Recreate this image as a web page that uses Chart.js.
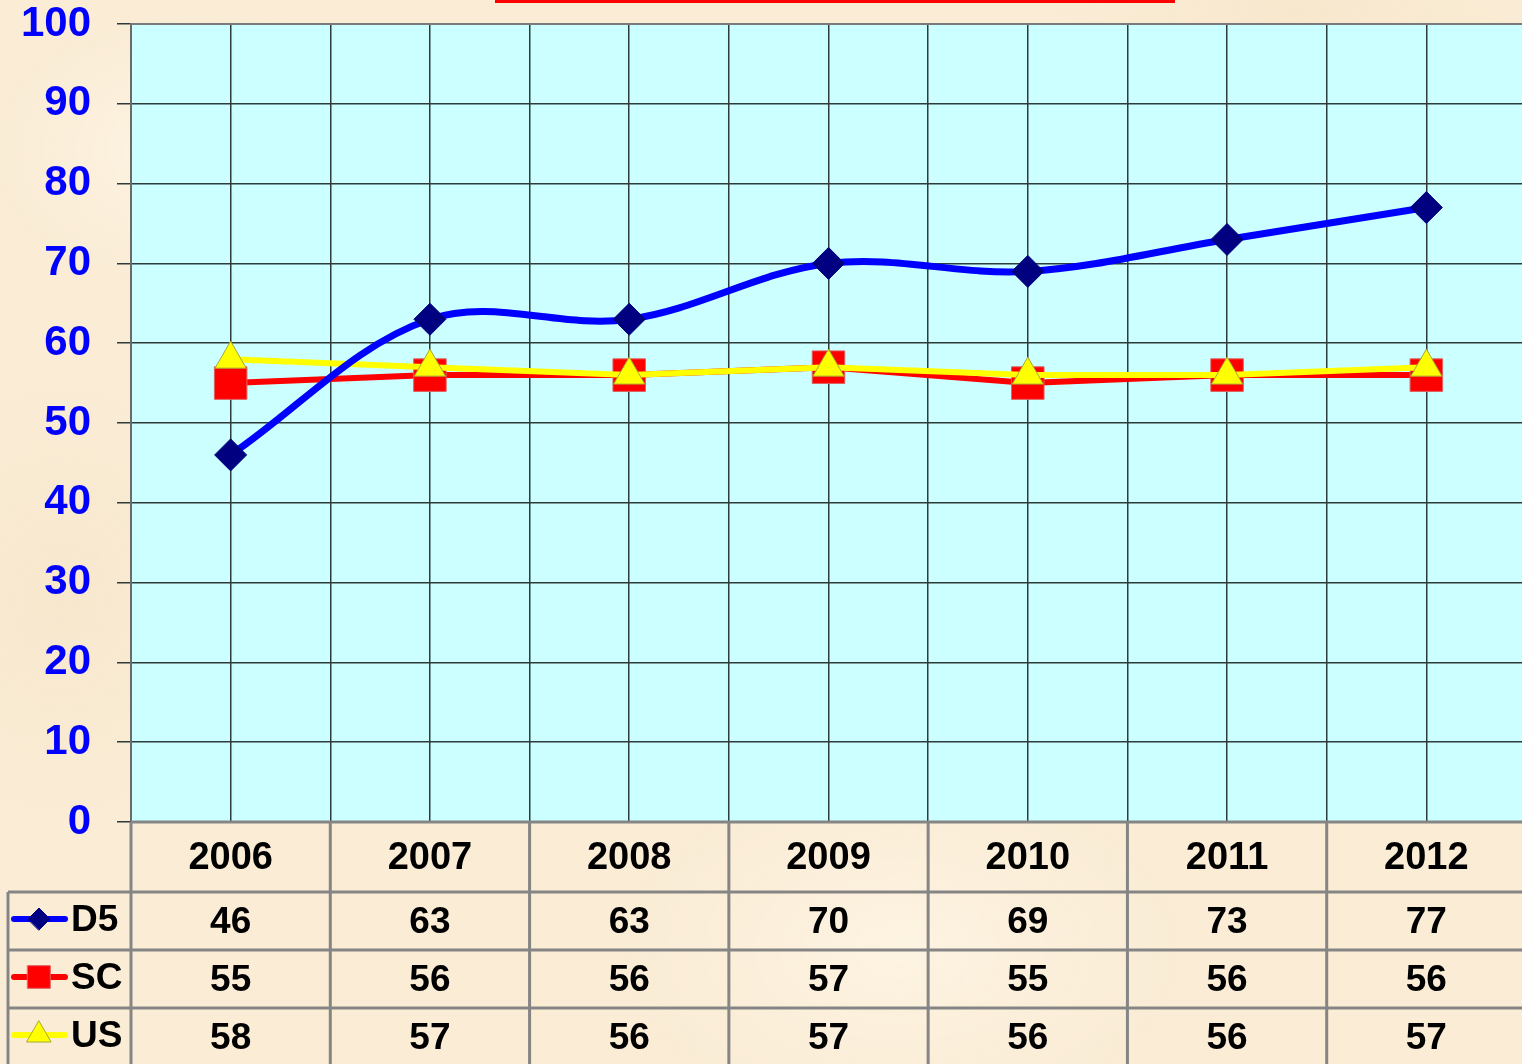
<!DOCTYPE html>
<html>
<head>
<meta charset="utf-8">
<script src="https://cdn.jsdelivr.net/npm/chart.js@4.4.0/dist/chart.umd.min.js"></script>
<style>
  html, body { margin: 0; padding: 0; overflow: hidden; }
  body {
    width: 1522px; height: 1064px;
    background-color: #faecd5;
    background-image:
      radial-gradient(ellipse 300px 200px at 200px 150px, rgba(255,248,234,0.7), rgba(255,248,234,0) 70%),
      radial-gradient(ellipse 400px 250px at 900px 950px, rgba(255,248,234,0.6), rgba(255,248,234,0) 70%),
      radial-gradient(ellipse 250px 300px at 60px 600px, rgba(245,228,200,0.6), rgba(245,228,200,0) 70%),
      radial-gradient(ellipse 350px 120px at 1300px 10px, rgba(245,228,200,0.6), rgba(245,228,200,0) 70%);
  }
  #wrap { position: absolute; left: 0; top: 0; width: 1526px; height: 1064px; }
  #redline { position: absolute; left: 495px; top: 0; width: 680px; height: 3px; background: #ff0000; }
</style>
</head>
<body>
<div id="redline"></div>
<div id="wrap"><canvas id="chart" width="1526" height="1064"></canvas></div>
<script>
const years = ['2006', '2007', '2008', '2009', '2010', '2011', '2012']
const d5 = [46, 63, 63, 70, 69, 73, 77]
const sc = [55, 56, 56, 57, 55, 56, 56]
const us = [58, 57, 56, 57, 56, 56, 57]
const yTicks = [0, 10, 20, 30, 40, 50, 60, 70, 80, 90, 100]

const fontFamily = '"Liberation Sans", Arial, sans-serif'
const gridColor = '#2f3b3b'
const tableLine = '#858585'

const series = [
    { label: 'D5', data: d5, line: '#0000ff', fill: '#000080', border: '#000080', style: 'rectRot', legendR: 11 },
    { label: 'SC', data: sc, line: '#ff0000', fill: '#ff0000', border: '#e06060', style: 'rect', legendR: 16 },
    { label: 'US', data: us, line: '#ffff00', fill: '#ffff00', border: '#a8a830', style: 'triangle', legendR: 14 }
]

const plotBackground = {
    id: 'plotBackground',
    beforeDraw: chart => {
        const { ctx, chartArea: a } = chart
        ctx.save()
        ctx.fillStyle = '#ccffff'
        ctx.fillRect(a.left, a.top, a.right - a.left, a.bottom - a.top)
        ctx.restore()
    }
}

const drawMarker = (ctx, style, x, y, r) => {
    ctx.beginPath()
    if (style === 'rectRot') {
        ctx.moveTo(x - r, y); ctx.lineTo(x, y - r); ctx.lineTo(x + r, y); ctx.lineTo(x, y + r)
    } else if (style === 'rect') {
        const s = r * Math.SQRT1_2
        ctx.rect(x - s, y - s, 2 * s, 2 * s)
    } else {
        ctx.moveTo(x, y - r)
        ctx.lineTo(x + r * Math.sin(Math.PI * 2 / 3), y + r / 2)
        ctx.lineTo(x - r * Math.sin(Math.PI * 2 / 3), y + r / 2)
    }
    ctx.closePath()
    ctx.fill()
    ctx.stroke()
}

const dataTable = {
    id: 'dataTable',
    afterDraw: chart => {
        const { ctx, chartArea: a } = chart
        const xs = chart.scales.x
        const half = (xs.getPixelForValue(1) - xs.getPixelForValue(0)) / 2
        const headTop = a.bottom, headBottom = a.bottom + 70, rowH = 58
        const bottom = chart.height

        ctx.save()
        // top border of plot
        ctx.strokeStyle = '#7a7a7a'
        ctx.lineWidth = 2
        ctx.beginPath(); ctx.moveTo(a.left, a.top); ctx.lineTo(a.right, a.top); ctx.stroke()

        // table lines
        ctx.strokeStyle = tableLine
        ctx.lineWidth = 3
        ctx.beginPath()
        ctx.moveTo(a.left, headTop); ctx.lineTo(a.right, headTop)
        for (let r = 0; r < series.length; r++) {
            const y = headBottom + r * rowH
            ctx.moveTo(8, y); ctx.lineTo(a.right, y)
        }
        ctx.moveTo(a.left, headTop); ctx.lineTo(a.left, bottom)
        ctx.moveTo(8, headBottom); ctx.lineTo(8, bottom)
        years.forEach((_, i) => {
            const x = xs.getPixelForValue(i) + half
            ctx.moveTo(x, headTop); ctx.lineTo(x, bottom)
        })
        ctx.stroke()

        // header
        ctx.fillStyle = '#000'
        ctx.textAlign = 'center'
        ctx.textBaseline = 'middle'
        ctx.font = `bold 38px ${fontFamily}`
        years.forEach((y, i) => ctx.fillText(y, xs.getPixelForValue(i), (headTop + headBottom) / 2 + 2))

        // rows
        series.forEach((s, r) => {
            const cy = headBottom + r * rowH + rowH / 2
            ctx.font = `bold 37px ${fontFamily}`
            ctx.fillStyle = '#000'
            ctx.textAlign = 'center'
            s.data.forEach((v, i) => ctx.fillText(String(v), xs.getPixelForValue(i), cy + 2))

            // legend key
            const ky = cy - 2
            ctx.strokeStyle = s.line
            ctx.lineWidth = 6
            ctx.lineCap = 'round'
            ctx.beginPath(); ctx.moveTo(14, ky); ctx.lineTo(65, ky); ctx.stroke()
            ctx.fillStyle = s.fill
            ctx.strokeStyle = s.border
            ctx.lineWidth = 1
            drawMarker(ctx, s.style, 39, ky, s.legendR)
            ctx.fillStyle = '#000'
            ctx.textAlign = 'left'
            ctx.fillText(s.label, 71, cy)
        })
        ctx.restore()
    }
}

const noPad = s => { s.paddingTop = 0; s.paddingBottom = 0; s.paddingLeft = 0; s.paddingRight = 0 }

new Chart(document.getElementById('chart'), {
    type: 'line',
    data: {
        labels: years,
        datasets: [
            { label: 'D5', data: d5, order: 0, borderColor: '#0000ff', borderWidth: 7, tension: 0.35,
              pointStyle: 'rectRot', pointRadius: 16, pointBackgroundColor: '#000080', pointBorderColor: '#000080', pointBorderWidth: 1 },
            { label: 'SC', data: sc, order: 2, borderColor: '#ff0000', borderWidth: 6, tension: 0,
              pointStyle: 'rect', pointRadius: 23, pointBackgroundColor: '#ff0000', pointBorderColor: '#e06060', pointBorderWidth: 1 },
            { label: 'US', data: us, order: 1, borderColor: '#ffff00', borderWidth: 6, tension: 0,
              pointStyle: 'triangle', pointRadius: 18, pointBackgroundColor: '#ffff00', pointBorderColor: '#a8a830', pointBorderWidth: 1 }
        ]
    },
    options: {
        responsive: false,
        animation: false,
        layout: { autoPadding: false, padding: { top: 24, left: 0, right: 0, bottom: 0 } },
        plugins: { legend: { display: false }, tooltip: { enabled: false }, title: { display: false } },
        scales: {
            x: {
                offset: true,
                grid: { offset: true, color: gridColor, lineWidth: 1.5, drawTicks: false },
                border: { display: false },
                ticks: { display: false },
                afterFit: s => { s.height = 242; noPad(s) }
            },
            x2: {
                position: 'bottom',
                offset: true,
                grid: { offset: false, color: gridColor, lineWidth: 1.5, drawTicks: false },
                border: { display: false },
                ticks: { display: false },
                afterFit: s => { s.height = 0; noPad(s) }
            },
            y: {
                min: 0,
                max: 100,
                afterBuildTicks: s => { s.ticks = yTicks.map(v => ({ value: v })) },
                ticks: { color: '#0000ff', padding: 26, font: { family: fontFamily, size: 42, weight: 'bold' } },
                grid: { color: gridColor, lineWidth: 1.5, tickLength: 14 },
                border: { color: '#6a6a6a', width: 2 },
                afterFit: s => { s.width = 131; noPad(s) }
            }
        }
    },
    plugins: [plotBackground, dataTable]
})
</script>
</body>
</html>
